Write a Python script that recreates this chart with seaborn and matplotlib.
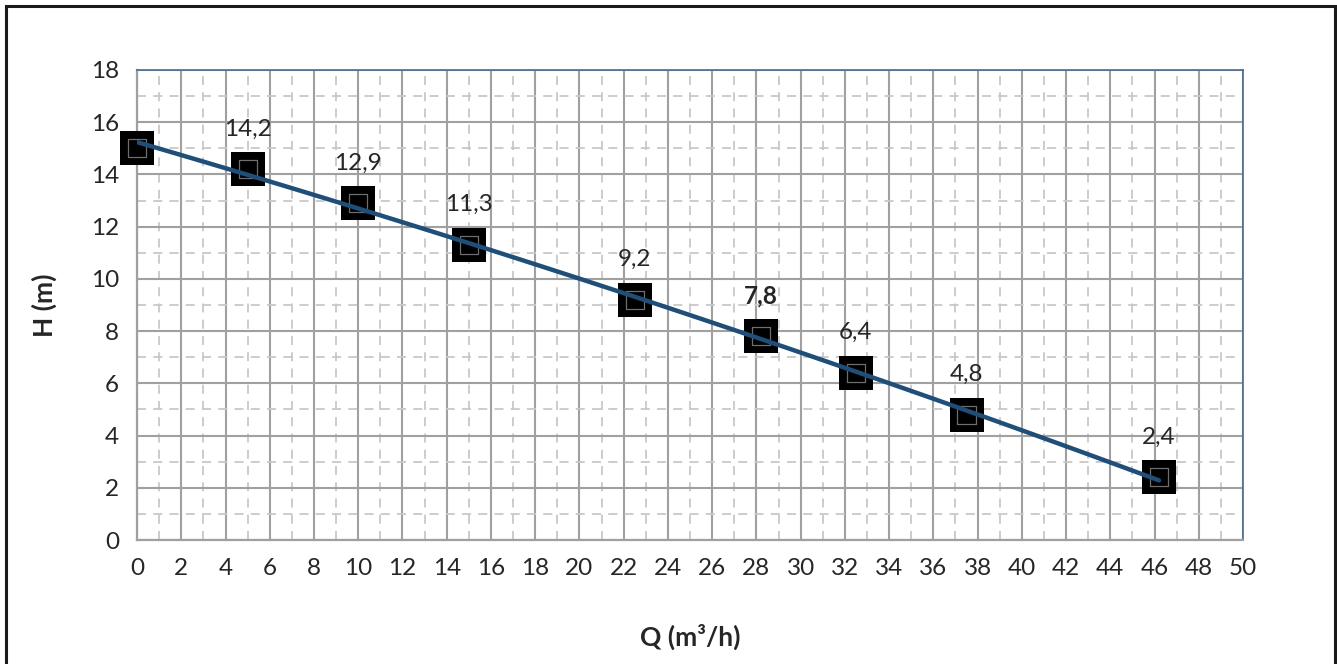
import numpy as np
import pandas as pd
import matplotlib
matplotlib.use("Agg")
import matplotlib.pyplot as plt
import seaborn as sns
from matplotlib.patches import Rectangle
from matplotlib.ticker import MultipleLocator

# Pump curve data
q_values = [0, 5, 10, 15, 22.5, 28.2, 32.5, 37.5, 46.2]
h_values = [15.0, 14.2, 12.9, 11.3, 9.2, 7.8, 6.4, 4.8, 2.4]
point_labels = ["", "14,2", "12,9", "11,3", "9,2", "7,8", "6,4", "4,8", "2,4"]
bold_label = "7,8"

df = pd.DataFrame({"Q": q_values, "H": h_values, "label": point_labels})

sns.set_style("white")
plt.rcParams["font.family"] = ["Lato", "DejaVu Sans"]

fig = plt.figure(figsize=(13.37, 6.64), dpi=100)
ax = fig.add_axes([0.1025, 0.1867, 0.8272, 0.7079])

# grid
ax.xaxis.set_major_locator(MultipleLocator(2))
ax.xaxis.set_minor_locator(MultipleLocator(1))
ax.yaxis.set_major_locator(MultipleLocator(2))
ax.yaxis.set_minor_locator(MultipleLocator(1))
ax.grid(which="major", color="#A0A0A0", linewidth=1.5, linestyle="-", zorder=0)
ax.grid(which="minor", color="#C8C8C8", linewidth=1.3, linestyle=(0, (5, 4)), zorder=0)
ax.set_axisbelow(True)

# markers (black squares)
sns.scatterplot(data=df, x="Q", y="H", marker="s", s=620, color="black",
                edgecolor="black", linewidth=0, ax=ax, zorder=3, clip_on=False)
sns.scatterplot(data=df, x="Q", y="H", marker="s", s=170, facecolor="none",
                edgecolor="#6E6E6E", linewidth=0.9, ax=ax, zorder=3, clip_on=False)

# trend line through the points
sns.regplot(data=df, x="Q", y="H", order=2, ci=None, scatter=False, truncate=True,
            line_kws={"color": "#1F4E79", "linewidth": 3.2, "zorder": 4}, ax=ax)

# data labels
for q, h, lab in zip(df["Q"], df["H"], df["label"]):
    if lab:
        ax.annotate(lab, (q, h), xytext=(0, 29), textcoords="offset points",
                    ha="center", va="center", fontsize=17.5, color="#262626",
                    fontweight="bold" if lab == bold_label else "normal", zorder=5)

ax.set_xlim(0, 50)
ax.set_ylim(0, 18)
ax.set_xlabel("Q (m³/h)", fontsize=19, fontweight="bold", color="#262626", labelpad=32)
ax.set_ylabel("H (m)", fontsize=19, fontweight="bold", color="#262626", labelpad=24)

ax.tick_params(axis="both", which="major", labelsize=17.5, labelcolor="#262626",
               direction="out", length=7, width=1.5, color="#A0A0A0", pad=6)
ax.tick_params(axis="both", which="minor", length=0)

for side in ["left", "bottom"]:
    ax.spines[side].set_color("#A0A0A0")
    ax.spines[side].set_linewidth(1.6)
for side in ["top", "right"]:
    ax.spines[side].set_visible(True)
    ax.spines[side].set_color("#4A6A8C")
    ax.spines[side].set_linewidth(1.2)

# outer chart frame
fig.patches.append(Rectangle((6 / 1337, -0.02), 1329 / 1337, 1.02 - 6 / 664,
                             transform=fig.transFigure, fill=False,
                             edgecolor="#1A1A1A", linewidth=2.2, zorder=10))

fig.savefig("out.png", dpi=100)
